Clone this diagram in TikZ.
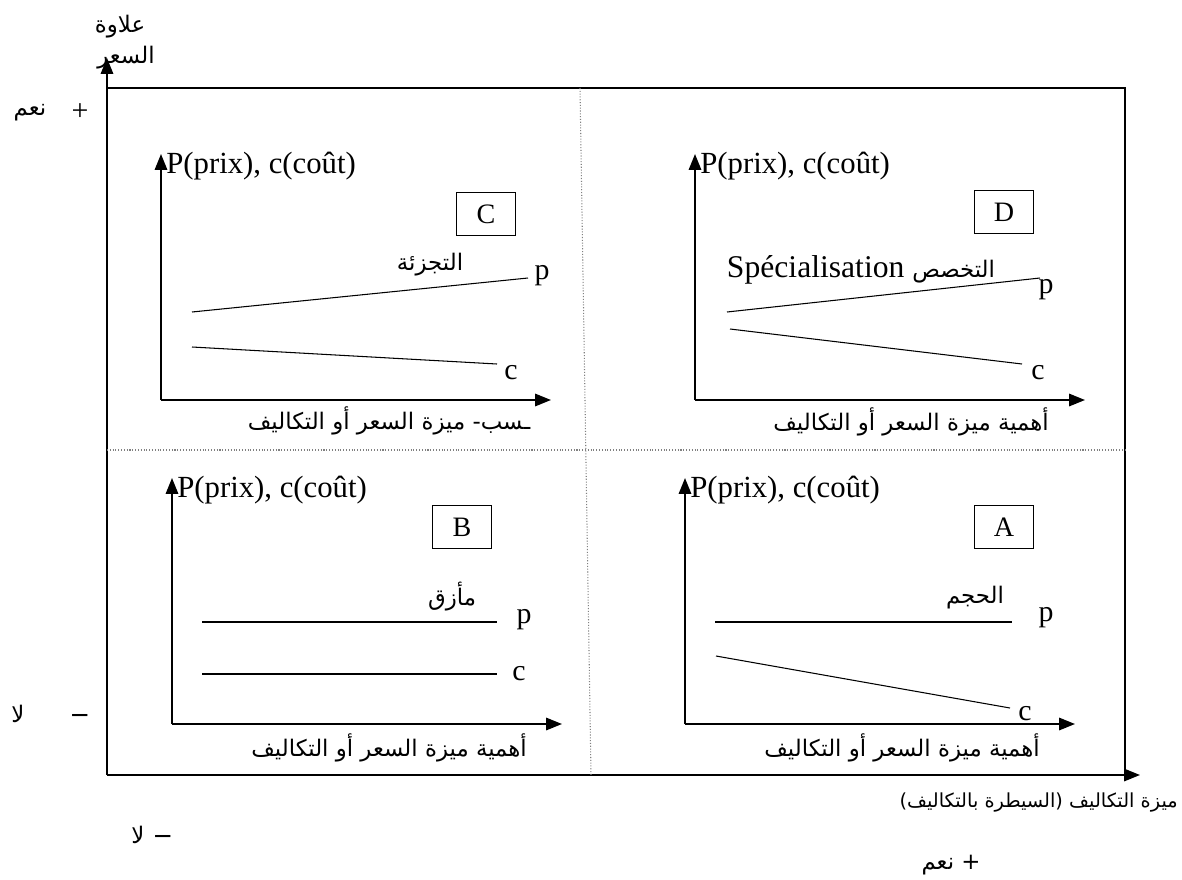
\documentclass[tikz,border=0pt]{standalone}
\usepackage{fontspec}
\setmainfont{Liberation Serif}
\newfontfamily\arabicfont[Script=Arabic]{DejaVu Sans}
\TeXXeTstate=1
\usetikzlibrary{arrows.meta}
\newcommand{\artxt}[1]{{\arabicfont\beginR #1\endR}}

\begin{document}
\begin{tikzpicture}[x=0.02cm,y=-0.02cm,
    >={Triangle[length=9pt,width=7pt]},
    frame/.style={line width=1.1pt},
    curve/.style={line width=0.6pt},
    sep/.style={densely dotted,gray,line width=0.6pt},
    ylab/.style={anchor=west,inner sep=0pt,font=\fontsize{17.5}{19}\selectfont},
    tag/.style={draw,line width=0.8pt,minimum width=1.18cm,minimum height=0.86cm,font=\fontsize{16}{18}\selectfont},
    pc/.style={inner sep=0pt,font=\fontsize{17}{19}\selectfont},
    arlab/.style={inner sep=0pt,font=\fontsize{13}{15}\selectfont}]
  \useasboundingbox (0,0) rectangle (1182,879);
  % outer axes and quadrants
  \node[arlab] (yname1) at (120,27) {\artxt{علاوة}};
  \node[arlab] (yname2) at (126,58) {\artxt{السعر}};
  \draw[frame] (107,88) -- (1125,88) -- (1125,775);
  \draw[frame,->] (107,775) -- (107,58);
  \draw[frame,->] (107,775) -- (1140,775);
  \draw[sep] (580,88) -- (591,775);
  \draw[sep] (107,450) -- (1125,450);
  \node[pc] (plusy) at (80,112) {+};
  \node[arlab] (yesy) at (30,113) {\artxt{نعم}};
  \node[pc] (minusy) at (80,718) {\textbf{–}};
  \node[arlab] (noy) at (18,714) {\artxt{لا}};
  \node[pc] (minusx) at (163,839) {\textbf{–}};
  \node[arlab] (nox) at (138,835) {\artxt{لا}};
  \node[arlab,anchor=east,font=\fontsize{11}{13}\selectfont] (xname) at (1178,803) {\artxt{ميزة التكاليف (السيطرة بالتكاليف)}};
  \node[arlab] (yesx) at (951,865) {\artxt{+ نعم}};
  % the four small charts
  \foreach \ox/\oy in {161/400,695/400,172/724,685/724}{
    \draw[frame,->] (\ox,\oy) -- ++(0,-246);
    \draw[frame,->] (\ox,\oy) -- ++(390,0);
    \node[ylab] at (\ox+5,\oy-234) {P(prix), c(coût)};
  }
  % C
  \node[tag] (tagC) at (486,214) {C};
  \draw[curve] (192,312) -- (528,278);
  \draw[curve] (192,347) -- (497,364);
  \node[pc] (pC) at (542,276) {p};
  \node[pc] (cC) at (511,373) {c};
  \node[arlab] (segC) at (430,265) {\artxt{التجزئة}};
  \node[arlab] (axC) at (389,421) {\artxt{ـسب- ميزة السعر أو التكاليف}};
  % D
  \node[tag] (tagD) at (1004,212) {D};
  \draw[curve] (727,312) -- (1040,278);
  \draw[curve] (730,329) -- (1022,364);
  \node[pc] (pD) at (1046,290) {p};
  \node[pc] (cD) at (1038,373) {c};
  \node[inner sep=0pt] (segD) at (861,270) {\fontsize{18}{20}\selectfont Spécialisation \fontsize{13}{15}\selectfont\artxt{التخصص}};
  \node[arlab] (axD) at (911,422) {\artxt{أهمية ميزة السعر أو التكاليف}};
  % B
  \node[tag] (tagB) at (462,527) {B};
  \draw[curve] (202,622) -- (497,622);
  \draw[curve] (202,674) -- (497,674);
  \node[pc] (pB) at (524,620) {p};
  \node[pc] (cB) at (519,674) {c};
  \node[arlab] (segB) at (452,597) {\artxt{مأزق}};
  \node[arlab] (axB) at (389,748) {\artxt{أهمية ميزة السعر أو التكاليف}};
  % A
  \node[tag] (tagA) at (1004,527) {A};
  \draw[curve] (715,622) -- (1012,622);
  \draw[curve] (716,656) -- (1010,708);
  \node[pc] (pA) at (1046,618) {p};
  \node[pc] (cA) at (1025,714) {c};
  \node[arlab] (segA) at (975,598) {\artxt{الحجم}};
  \node[arlab] (axA) at (902,748) {\artxt{أهمية ميزة السعر أو التكاليف}};
\end{tikzpicture}
\end{document}
